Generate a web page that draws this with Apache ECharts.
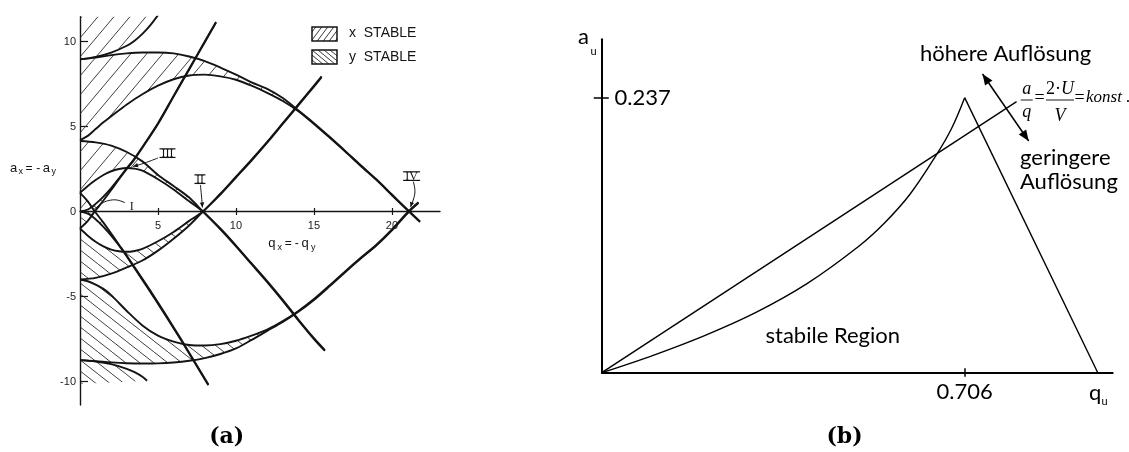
<!DOCTYPE html>
<html>
<head>
<meta charset="utf-8">
<script src="https://cdn.jsdelivr.net/npm/echarts@6/dist/echarts.min.js"></script>
<style>
  html, body { margin: 0; padding: 0; background: #ffffff; }
  #chart { width: 1129px; height: 452px; }
</style>
</head>
<body>
<div id="chart"></div>
<script>
// ---------------- panel (a): stability diagram, a_x = -a_y  vs  q_x = -q_y ----------------
// boundaries of the x-stable bands  [q, a]
const xA0 = [[0,0],[0.5,-0.12],[1,-0.45],[1.5,-0.9],[2,-1.42],[2.5,-2.0],[3,-2.65],[4,-4.02],[5,-5.42],[6,-6.86],[7,-8.35],[8.23,-10.22]];
const xB1 = [[0,1.1],[0.5,0.6],[0.95,0],[1.5,-0.65],[2,-1.3],[2.5,-1.95],[3,-2.6],[4,-3.95],[5,-5.35],[6,-6.8],[7,-8.3],[8.23,-10.18]];
const xA1 = [[0,1.1],[0.5,1.5],[1,1.85],[1.5,2.15],[2,2.37],[2.5,2.5],[3,2.56],[3.5,2.52],[4,2.4],[5,1.9],[6,1.3],[7,0.6],[7.88,0],[9,-1.05],[10,-2.05],[11,-3.1],[12,-4.15],[13,-5.25],[14,-6.4],[15,-7.5],[15.7,-8.2]];
const xB2 = [[0,4.15],[1,4.07],[2,3.88],[3,3.5],[4,2.95],[5,2.15],[6,1.5],[7,0.82],[7.88,0],[9,-1.0],[10,-2.0],[11,-3.05],[12,-4.1],[13,-5.2],[14,-6.35],[15,-7.45],[15.7,-8.15]];
const xA2 = [[0,4.2],[0.5,4.45],[1,4.85],[1.5,5.25],[2,5.6],[3,6.3],[4,6.9],[5,7.4],[6,7.78],[7,8.0],[8,8.05],[9,7.95],[10,7.75],[11,7.4],[12,6.98],[13,6.5],[14,5.9],[15,5.15],[16,4.35],[17,3.53],[18,2.68],[19,1.86],[20,0.96],[21.1,-0.02],[21.8,-0.62]];
const xB3 = [[0,8.95],[1,9.05],[2,9.2],[3,9.3],[4,9.35],[5,9.35],[6,9.3],[7,9.12],[8,8.85],[9,8.47],[10,8.05],[11,7.6],[12,7.22],[13,6.68],[14,5.95],[15,5.2],[16,4.4],[17,3.57],[18,2.72],[19,1.9],[20,1.0],[21.1,0.02],[21.8,-0.58]];
const xA3 = [[0,8.95],[1,9.1],[2,9.35],[3,9.75],[3.5,10.05],[4,10.45],[4.5,10.95],[5,11.55]];

// boundaries of the y-stable bands  [q, a]
const yA0 = [[0,0],[0.5,0.12],[1,0.45],[1.5,0.88],[2,1.38],[2.5,1.95],[3,2.55],[3.42,3.03],[4,3.8],[5,5.2],[6,6.8],[7,8.4],[8,10.0],[8.72,11.15]];
const yB1 = [[0,-1.0],[0.5,-0.55],[0.95,0],[1.5,0.65],[2,1.27],[2.5,1.9],[3,2.5],[3.42,2.98],[4,3.75],[5,5.15],[6,6.76],[7,8.36],[8,9.96],[8.72,11.11]];
const yA1 = [[0,-1.0],[0.5,-1.42],[1,-1.78],[1.5,-2.05],[2,-2.24],[2.5,-2.34],[3,-2.37],[3.5,-2.32],[4,-2.2],[5,-1.75],[6,-1.2],[7,-0.55],[7.88,0],[9,1.05],[10,2.05],[11,3.05],[12,4.1],[13,5.2],[14,6.3],[15,7.4],[15.49,7.95]];
const yB2 = [[0,-4.0],[1,-3.9],[2,-3.65],[3,-3.28],[4,-2.88],[5,-2.3],[6,-1.6],[7,-0.82],[7.88,0],[9,1.0],[10,2.0],[11,3.0],[12,4.05],[13,5.15],[14,6.25],[15,7.35],[15.49,7.9]];
const yA2 = [[0,-4.0],[0.5,-4.1],[1,-4.3],[1.5,-4.55],[2,-4.92],[3,-5.85],[4,-6.7],[5,-7.3],[6,-7.65],[7,-7.85],[8,-7.88],[9,-7.8],[10,-7.6],[11,-7.3],[12,-6.95],[13,-6.45],[14,-5.85],[15,-5.15],[16,-4.35],[17,-3.52],[18,-2.72],[19,-1.95],[20,-1.05],[21.1,0.05],[21.7,0.55]];
const yB3 = [[0,-8.74],[1,-8.8],[2,-8.87],[3,-8.92],[4,-8.94],[5,-8.93],[6,-8.88],[7,-8.78],[8,-8.62],[9,-8.38],[10,-8.05],[11,-7.55],[12,-7.02],[13,-6.5],[14,-5.9],[15,-5.2],[16,-4.4],[17,-3.57],[18,-2.77],[19,-2.0],[20,-1.1],[21.1,0],[21.7,0.5]];
const yA3 = [[0,-8.74],[1,-8.82],[2,-8.98],[3,-9.25],[3.5,-9.45],[4,-9.72],[4.3,-9.95]];

const qTicksA = [5, 10, 15, 20];
const aLabelsA = [-10, -5, 0, 5, 10];
const aTicksA = [-10, -5, 5, 10];

// ---------------- panel (b): first stability region ----------------
const stableLeft = [[0,0],[0.1,0.015],[0.2,0.032],[0.3,0.052],[0.4,0.077],[0.5,0.109],[0.55,0.129],[0.6,0.154],[0.65,0.187],[0.68,0.21],[0.706,0.237]];
const stableRight = [[0.706,0.237],[0.965,0]];
const scanLine = [[0,0],[0.807,0.2336]];
const qTicksB = [0.706];
const aTicksB = [0.237];

// ---------------- hatch patterns ----------------
function makeHatch(w, h, slash, lw, color) {
  const c = document.createElement('canvas');
  c.width = w; c.height = h;
  const ctx = c.getContext('2d');
  ctx.strokeStyle = color;
  ctx.lineWidth = lw;
  ctx.beginPath();
  for (let k = -1; k <= 1; k++) {
    if (slash) { ctx.moveTo(k * w, h); ctx.lineTo(k * w + w, 0); }
    else { ctx.moveTo(k * w, 0); ctx.lineTo(k * w + w, h); }
  }
  ctx.stroke();
  return { image: c, repeat: 'repeat' };
}
const hatchX = makeHatch(16, 19, true, 0.9, '#2a2a2a');
const hatchY = makeHatch(14, 11, false, 0.9, '#2a2a2a');
const legendHatchX = makeHatch(6, 8, true, 0.9, '#222');
const legendHatchY = makeHatch(6, 5, false, 0.9, '#222');

function upTo(pts, qMax) { return pts.filter(p => p[0] <= qMax + 1e-9); }

// filled bands: upper boundary followed by the lower boundary walked back
const bands = [
  { poly: xA3.concat([[5, 11.7], [0, 11.7]]), fill: hatchX },
  { poly: upTo(xB3, 14).concat(upTo(xA2, 14).reverse()), fill: hatchX },
  { poly: upTo(xB2, 7.88).concat(upTo(xA1, 7.88).reverse()), fill: hatchX },
  { poly: xB1.concat(xA0.slice().reverse()), fill: hatchX },
  { poly: yA3.concat([[0, -10.15]]), fill: hatchY },
  { poly: upTo(yA2, 12).concat(upTo(yB3, 12).reverse()), fill: hatchY },
  { poly: upTo(yA1, 7.88).concat(upTo(yB2, 7.88).reverse()), fill: hatchY },
  { poly: yA0.concat(yB1.slice().reverse()), fill: hatchY }
];

const INK = '#141414';

function bandSeries(band) {
  return {
    type: 'custom', xAxisIndex: 0, yAxisIndex: 0, clip: true, silent: true, z: 1,
    data: [[0, 0]],
    renderItem: function (params, api) {
      return {
        type: 'polygon',
        shape: { points: band.poly.map(p => api.coord(p)) },
        style: { fill: band.fill, stroke: null }
      };
    }
  };
}

function curveA(pts) {
  return {
    type: 'line', xAxisIndex: 0, yAxisIndex: 0, data: pts, showSymbol: false,
    smooth: 0.3, clip: true, silent: true, z: 3,
    lineStyle: { color: INK, width: 1.9 }
  };
}
function curveB(pts, smooth) {
  return {
    type: 'line', xAxisIndex: 2, yAxisIndex: 1, data: pts, showSymbol: false,
    smooth: smooth, clip: false, silent: true, z: 3,
    lineStyle: { color: '#000', width: 1.4 }
  };
}

// roman-numeral region markers with their leaders
const regionMarks = [
  { text: 'I', at: [3.31, 0.32], bar: 3.3, path: [[2.88,0.52],[2.35,0.68],[1.81,0.64],[1.39,0.48],[1.07,0.25],[0.85,0.09]], head: false },
  { text: 'II', at: [7.69, 1.91], bar: 5.5, path: [[7.72,1.56],[7.79,0.91],[7.85,0.24]], head: true },
  { text: 'III', at: [5.61, 3.44], bar: 8, path: [[5.0,3.15],[4.49,2.97],[4.04,2.82],[3.4,2.65]], head: true },
  { text: 'IV', at: [21.26, 2.09], bar: 8.5, path: [[21.37,1.76],[21.47,1.09],[21.19,0.26]], head: true }
];

function arrowHead(from, tip, len, hw) {
  const dx = tip[0] - from[0], dy = tip[1] - from[1];
  const L = Math.hypot(dx, dy) || 1, ux = dx / L, uy = dy / L;
  const bx = tip[0] - ux * len, by = tip[1] - uy * len;
  return [[tip[0], tip[1]], [bx - uy * hw, by + ux * hw], [bx + uy * hw, by - ux * hw]];
}

const markSeries = {
  type: 'custom', xAxisIndex: 0, yAxisIndex: 0, clip: false, silent: true, z: 6,
  data: [[0, 0]],
  renderItem: function (params, api) {
    const children = [];
    regionMarks.forEach(function (m) {
      const c = api.coord(m.at);
      children.push({ type: 'text', style: { text: m.text, x: c[0], y: c[1] + 0.5, font: '12px "Liberation Serif"', fill: INK, align: 'center', verticalAlign: 'middle' } });
      if (m.text !== 'I') {
        children.push({ type: 'line', shape: { x1: c[0] - m.bar, y1: c[1] - 4.2, x2: c[0] + m.bar, y2: c[1] - 4.2 }, style: { stroke: INK, lineWidth: 1.2 } });
        children.push({ type: 'line', shape: { x1: c[0] - m.bar, y1: c[1] + 4.4, x2: c[0] + m.bar, y2: c[1] + 4.4 }, style: { stroke: INK, lineWidth: 1.2 } });
      }
      const pts = m.path.map(p => api.coord(p));
      children.push({ type: 'polyline', shape: { points: pts, smooth: 0.4 }, style: { stroke: INK, lineWidth: 1, fill: null } });
      if (m.head) {
        children.push({ type: 'polygon', shape: { points: arrowHead(pts[pts.length - 2], pts[pts.length - 1], 5, 2.2) }, style: { fill: INK } });
      }
    });
    return { type: 'group', children: children };
  }
};

// ---------------- free text and legend ----------------
const SANS = '"Liberation Sans"';
const SERIF = '"Liberation Serif"';
function txt(text, x, y, font, opts) {
  return { type: 'text', silent: true, z: 10, style: Object.assign({ text: text, x: x, y: y, font: font, fill: INK, align: 'left', verticalAlign: 'middle' }, opts || {}) };
}
function txtB(text, x, y, font, opts) {
  const t = txt(text, x, y, font, opts);
  t.style.fill = '#000';
  return t;
}

const dblA = [982.5, 74], dblB = [1028.7, 141];

const graphics = [
  // legend of panel (a)
  { type: 'rect', z: 10, silent: true, shape: { x: 312, y: 27, width: 25, height: 14 }, style: { fill: legendHatchX, stroke: INK, lineWidth: 1.5 } },
  { type: 'rect', z: 10, silent: true, shape: { x: 312, y: 50, width: 25, height: 14 }, style: { fill: legendHatchY, stroke: INK, lineWidth: 1.5 } },
  txt('x  STABLE', 349, 33.6, '14px ' + SANS),
  txt('y  STABLE', 349, 57.2, '14px ' + SANS),
  // axis titles of panel (a)
  txt('a', 10, 168.8, '13px ' + SANS),
  txt('x', 18.6, 171.8, '9px ' + SANS),
  txt('=', 25.5, 168.5, '12px ' + SANS),
  txt('-', 36.3, 168.5, '12px ' + SANS),
  txt('a', 42.8, 168.8, '13px ' + SANS),
  txt('y', 51.5, 171.8, '9px ' + SANS),
  txt('q', 268.3, 243.6, '13px ' + SANS),
  txt('x', 277.4, 247.2, '9px ' + SANS),
  txt('=', 284.8, 243.3, '12px ' + SANS),
  txt('-', 294.8, 243.3, '12px ' + SANS),
  txt('q', 301.5, 243.6, '13px ' + SANS),
  txt('y', 311, 247.2, '9px ' + SANS),
  // sub-figure captions
  txtB('(a)', 226.7, 437.5, 'bold 22px "DejaVu Serif"', { align: 'center' }),
  txtB('(b)', 844.5, 437.5, 'bold 22px "DejaVu Serif"', { align: 'center' }),
  // panel (b) axis names
  txtB('a', 578, 37, '22px Lato'),
  txtB('u', 590.5, 51.5, '11px Lato'),
  txtB('q', 1089, 392.5, '22px Lato'),
  txtB('u', 1101.5, 401.5, '11px Lato'),
  // panel (b) texts
  txtB('höhere Auflösung', 920, 54, '22px Lato'),
  txtB('geringere', 1020, 158.2, '22px Lato'),
  txtB('Auflösung', 1020, 182.2, '22px Lato'),
  txtB('stabile Region', 765.5, 335.5, '22px Lato'),
  // a/q = 2·U/V = konst.
  txtB('a', 1026.7, 89, 'italic 18px ' + SERIF, { align: 'center' }),
  txtB('q', 1026.7, 112, 'italic 18px ' + SERIF, { align: 'center' }),
  { type: 'line', z: 10, silent: true, shape: { x1: 1020.7, y1: 100, x2: 1032.7, y2: 100 }, style: { stroke: '#000', lineWidth: 0.9 } },
  txtB('=', 1039.5, 98.4, '18px ' + SERIF, { align: 'center' }),
  txtB('{n|2·}{i|U}', 1060, 89, '18px ' + SERIF, { align: 'center', rich: { n: { font: '18px ' + SERIF, fill: '#000' }, i: { font: 'italic 18px ' + SERIF, fill: '#000' } } }),
  txtB('V', 1060, 116, 'italic 18px ' + SERIF, { align: 'center' }),
  { type: 'line', z: 10, silent: true, shape: { x1: 1046, y1: 100, x2: 1074, y2: 100 }, style: { stroke: '#000', lineWidth: 0.9 } },
  txtB('=', 1079.5, 98.4, '18px ' + SERIF, { align: 'center' }),
  txtB('konst .', 1086, 98, 'italic 17px ' + SERIF),
  // double arrow across the scan line
  { type: 'line', z: 10, silent: true, shape: { x1: dblA[0], y1: dblA[1], x2: dblB[0], y2: dblB[1] }, style: { stroke: '#000', lineWidth: 1.5 } },
  { type: 'polygon', z: 10, silent: true, shape: { points: arrowHead(dblB, dblA, 11, 4.5) }, style: { fill: '#000' } },
  { type: 'polygon', z: 10, silent: true, shape: { points: arrowHead(dblA, dblB, 11, 4.5) }, style: { fill: '#000' } }
];

// ---------------- axes ----------------
const axisFontA = { color: '#222', fontSize: 11, fontFamily: 'Liberation Sans' };
// the q axis of panel (a) runs through a = 0, which sits 193.5 px above the bottom of its grid
const qAxisLiftA = -193.5;

const option = {
  animation: false,
  backgroundColor: '#ffffff',
  grid: [
    { left: 80, top: 16.7, width: 360, height: 388.3, outerBoundsMode: 'none' },
    { left: 601.8, top: 39.3, width: 510.9, height: 333.4, outerBoundsMode: 'none' }
  ],
  xAxis: [
    { gridIndex: 0, type: 'value', min: 0, max: 23.08, position: 'bottom', offset: qAxisLiftA,
      axisLine: { show: true, onZero: false, lineStyle: { color: INK, width: 1.4 } },
      axisTick: { show: true, customValues: qTicksA, inside: false, length: 3.5, lineStyle: { color: INK, width: 1.2 } },
      axisLabel: Object.assign({ show: true, customValues: qTicksA, margin: 9 }, axisFontA),
      splitLine: { show: false } },
    { gridIndex: 0, type: 'value', min: 0, max: 23.08, position: 'bottom', offset: qAxisLiftA,
      axisLine: { show: false, onZero: false },
      axisTick: { show: true, customValues: qTicksA, inside: true, length: 3.5, lineStyle: { color: INK, width: 1.2 } },
      axisLabel: { show: false }, splitLine: { show: false } },
    { gridIndex: 1, type: 'value', min: 0, max: 0.994, position: 'bottom',
      axisLine: { show: true, onZero: false, lineStyle: { color: '#000', width: 2 } },
      axisTick: { show: true, customValues: qTicksB, inside: false, length: 4, lineStyle: { color: '#000', width: 1.5 } },
      axisLabel: { show: true, customValues: qTicksB, margin: 8, color: '#000', fontSize: 22, fontFamily: 'Lato',
                   formatter: v => v.toFixed(3) },
      splitLine: { show: false } },
    { gridIndex: 1, type: 'value', min: 0, max: 0.994, position: 'bottom',
      axisLine: { show: false, onZero: false },
      axisTick: { show: true, customValues: qTicksB, inside: true, length: 4.5, lineStyle: { color: '#000', width: 1.5 } },
      axisLabel: { show: false }, splitLine: { show: false } }
  ],
  yAxis: [
    { gridIndex: 0, type: 'value', min: -11.38, max: 11.46, position: 'left',
      axisLine: { show: true, onZero: false, lineStyle: { color: INK, width: 1.4 } },
      axisTick: { show: true, customValues: aTicksA, inside: true, length: 8, lineStyle: { color: INK, width: 1.2 } },
      axisLabel: Object.assign({ show: true, customValues: aLabelsA, margin: 4 }, axisFontA),
      splitLine: { show: false } },
    { gridIndex: 1, type: 'value', min: 0, max: 0.2873, position: 'left',
      axisLine: { show: true, onZero: false, lineStyle: { color: '#000', width: 2 } },
      axisTick: { show: true, customValues: aTicksB, inside: false, length: 8, lineStyle: { color: '#000', width: 1.5 } },
      axisLabel: { show: true, inside: true, customValues: aTicksB, margin: 12.7, color: '#000', fontSize: 22, fontFamily: 'Lato',
                   formatter: v => v.toFixed(3) },
      splitLine: { show: false } },
    { gridIndex: 1, type: 'value', min: 0, max: 0.2873, position: 'left',
      axisLine: { show: false, onZero: false },
      axisTick: { show: true, customValues: aTicksB, inside: true, length: 7, lineStyle: { color: '#000', width: 1.5 } },
      axisLabel: { show: false }, splitLine: { show: false } }
  ],
  series: [].concat(
    bands.map(bandSeries),
    [xA0, xB1, xA1, xB2, xA2, xB3, xA3, yA0, yB1, yA1, yB2, yA2, yB3, yA3].map(curveA),
    [markSeries],
    [curveB(stableLeft, 0.35), curveB(stableRight, false), curveB(scanLine, false)]
  ),
  graphic: graphics
};

const chart = echarts.init(document.getElementById('chart'), null, { renderer: 'canvas' });
chart.setOption(option);
</script>
</body>
</html>
